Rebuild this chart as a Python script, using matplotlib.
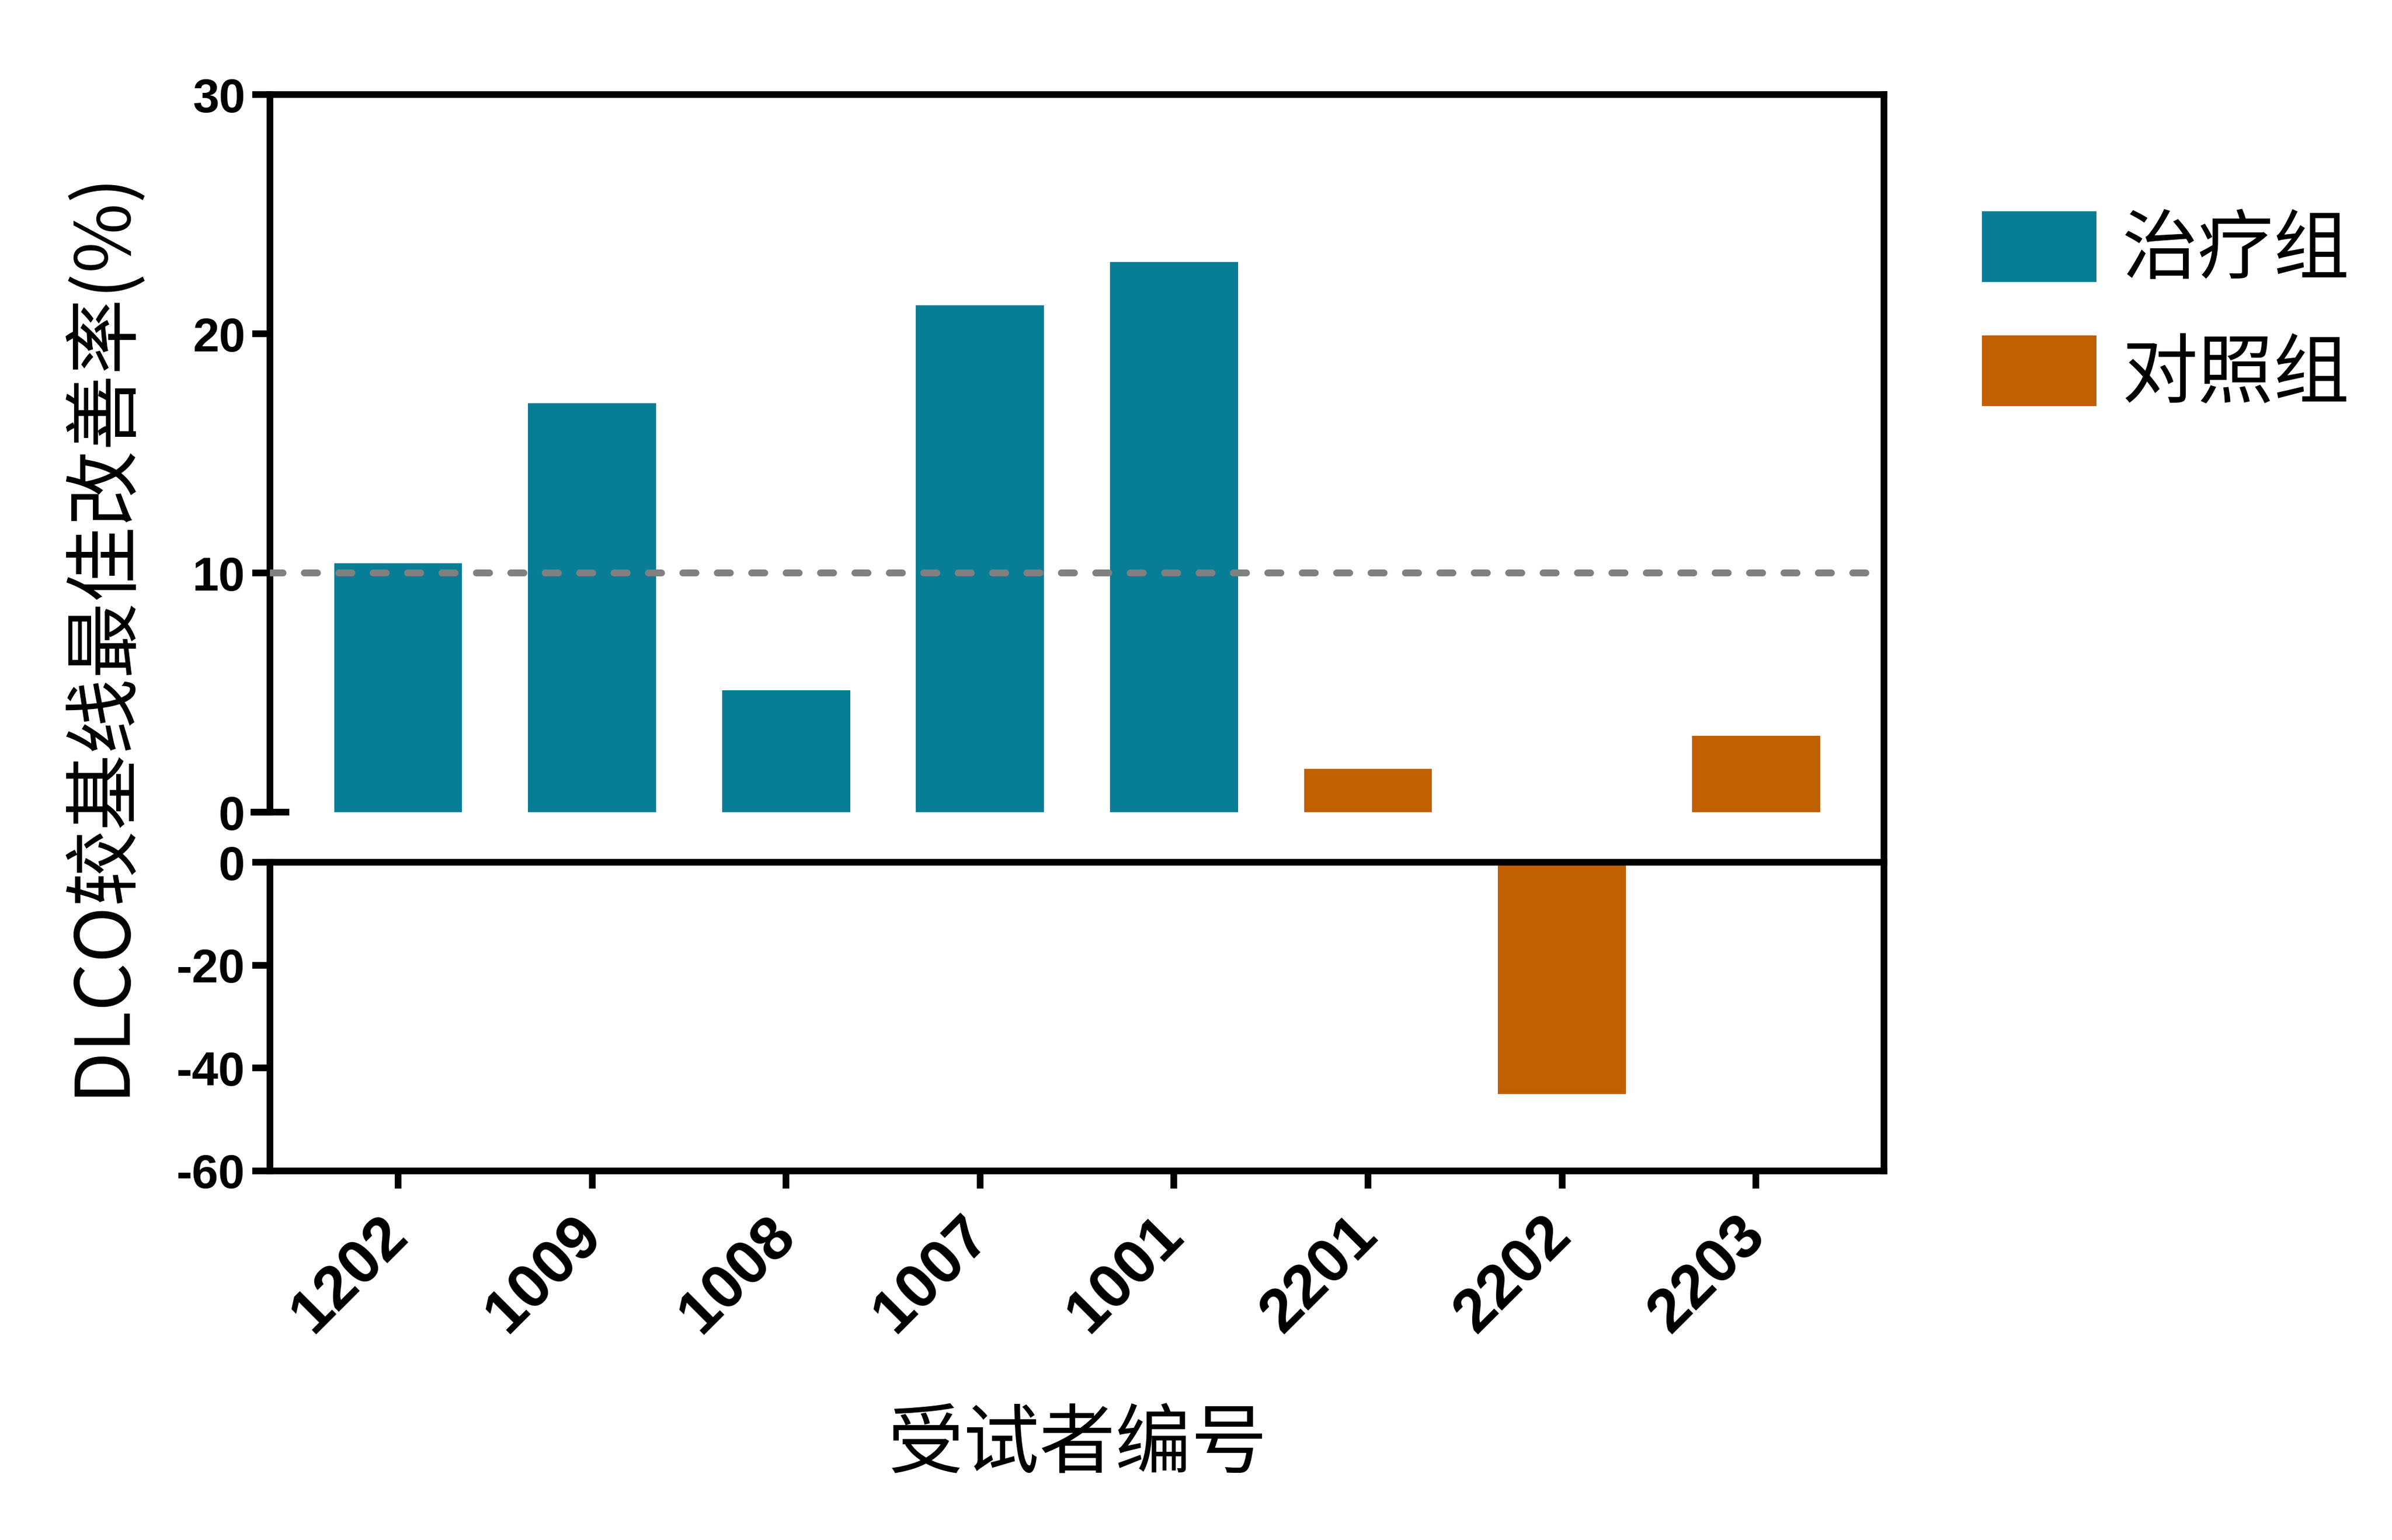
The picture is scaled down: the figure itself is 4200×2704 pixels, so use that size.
import matplotlib
matplotlib.use("Agg")
import matplotlib.pyplot as plt
import matplotlib.patches as mpatches
import numpy as np

plt.rcParams['font.family'] = ['Noto Sans CJK SC', 'DejaVu Sans']

subjects = ['1202', '1009', '1008', '1007', '1001', '2201', '2202', '2203']
values = [10.4, 17.1, 5.1, 21.2, 23.0, 1.8, -45.1, 3.2]
groups = ['治疗组', '治疗组', '治疗组', '治疗组', '治疗组', '对照组', '对照组', '对照组']
group_names = ['治疗组', '对照组']
group_colors = {'治疗组': '#087E96', '对照组': '#C06000'}
threshold = 10

upper_ticks = [0, 10, 20, 30]
lower_ticks = [0, -20, -40, -60]

LW = 2.8
YTICK_FONT = dict(family='Liberation Sans', weight='bold', size=20)
XTICK_FONT = dict(family='Liberation Sans', weight='bold', size=26)

fig = plt.figure(figsize=(14, 2704 / 300), dpi=300)
left, right = 0.1129, 0.7876
y_top, y_mid, y_bot = 0.9386, 0.4400, 0.2398
ax_top = fig.add_axes([left, y_mid, right - left, y_top - y_mid])
ax_bot = fig.add_axes([left, y_bot, right - left, y_mid - y_bot])

x = np.arange(len(subjects))
vals = np.array(values)
colors = [group_colors[g] for g in groups]
width = 0.66

ax_top.bar(x, np.clip(vals, 0, None), width=width, color=colors, zorder=2)
ax_bot.bar(x, np.clip(vals, None, 0), width=width, color=colors, zorder=2)
ax_top.axhline(threshold, color='#808080', lw=2.9, ls=(0, (1.9, 3.1)),
               dash_capstyle='round', zorder=3)

for ax in (ax_top, ax_bot):
    ax.set_xlim(-0.66, len(subjects) - 1 + 0.66)
    for s in ax.spines.values():
        s.set_linewidth(LW)
    ax.tick_params(axis='y', direction='out', length=7.5, width=LW, pad=3)

# upper part: 0..30, a little room below 0 so the right spine runs on
ax_top.set_ylim(-2.1, 30)
ax_top.set_yticks(upper_ticks)
ax_top.set_yticklabels([str(t) for t in upper_ticks], **YTICK_FONT)
ax_top.spines['bottom'].set_visible(False)
ax_top.spines['left'].set_bounds(0, 30)
ax_top.set_xticks([])
# zero tick crossing the spine
ax_top.plot([-0.012, 0.012], [0, 0], transform=ax_top.get_yaxis_transform(),
            color='black', lw=LW, clip_on=False, solid_capstyle='butt', zorder=5)

# lower part
ax_bot.set_ylim(-60, 0)
ax_bot.set_yticks(lower_ticks)
ax_bot.set_yticklabels([str(t) for t in lower_ticks], **YTICK_FONT)
ax_bot.set_xticks(x)
ax_bot.set_xticklabels(subjects, rotation=45, ha='right', va='center',
                       rotation_mode='anchor', **XTICK_FONT)
ax_bot.tick_params(axis='x', direction='out', length=7.5, width=LW, pad=16)

fig.text(0.042, 0.589, 'DLCO较基线最佳改善率(%)', rotation=90, ha='center',
         va='center', fontsize=32)
fig.text((left + right) / 2, 0.061, '受试者编号', ha='center',
         va='center', fontsize=32)

handles = [mpatches.Patch(color=group_colors[g], label=g) for g in group_names]
fig.legend(handles=handles, loc='upper left', bbox_to_anchor=(0.829, 0.862),
           frameon=False, fontsize=32, handlelength=1.48, handleheight=1.0,
           handletextpad=0.35, labelspacing=0.62, borderpad=0, borderaxespad=0)

fig.savefig('out.png', dpi=300)
